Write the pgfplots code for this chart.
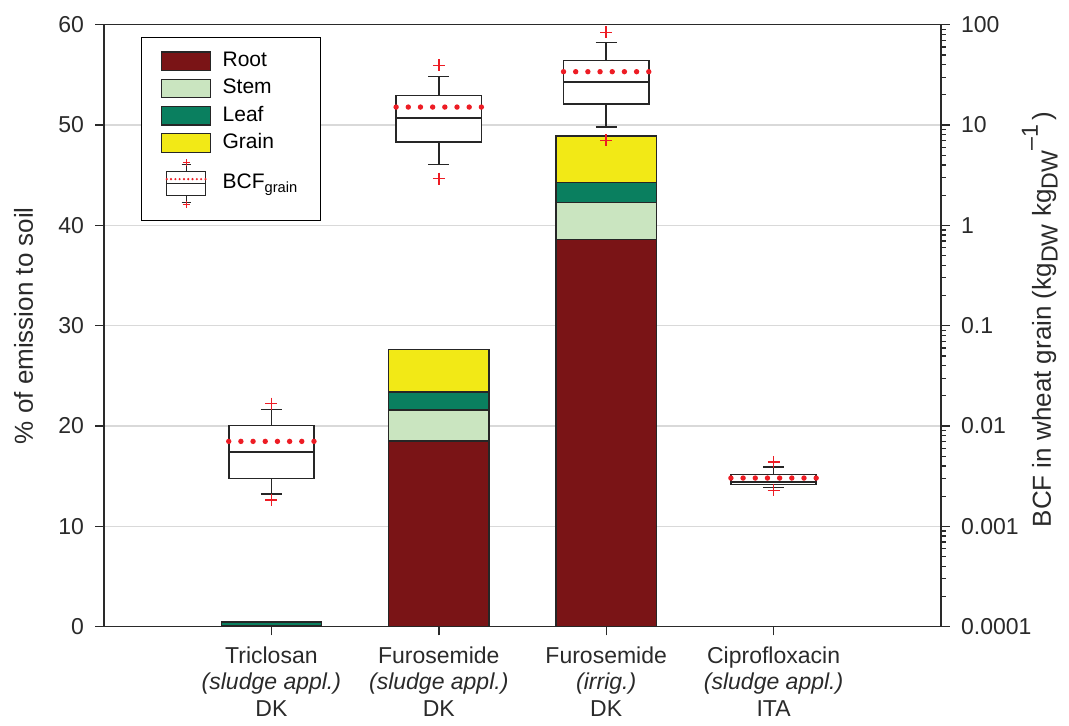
\documentclass[border=0pt]{standalone}
\usepackage{pgfplots}
\pgfplotsset{compat=1.18}
\usepackage{fontspec}
\setmainfont{Liberation Sans}
\newcommand\fs{\fontsize{11.5}{13.3}\selectfont}
\newcommand\lab{\fontsize{13}{15}\selectfont}
\newcommand\labr{\fontsize{13}{15}\selectfont}
\newcommand\labsub[1]{\raisebox{-0.5ex}{\fontsize{11.6}{13}\selectfont #1}}
\newcommand\labsup[1]{\raisebox{0.95ex}{\fontsize{11.6}{13}\selectfont #1}}
\definecolor{root}{HTML}{7A1416}
\definecolor{stem}{HTML}{CAE5C0}
\definecolor{leaf}{HTML}{0A7F5F}
\definecolor{grain}{HTML}{F2E916}
\definecolor{mred}{HTML}{ED1C24}
\definecolor{axc}{HTML}{2A2A2A}
\begin{document}
\begin{tikzpicture}
\pgfplotsset{
  common/.style={
    scale only axis, width=418.5pt, height=301pt,
    xmin=-1, xmax=4,
    tick align=outside, major tick length=4.3pt, minor tick length=2.3pt,
    axis line style={line width=0.7pt, draw=axc},
    every tick/.style={line width=0.7pt, draw=axc},
    every minor tick/.style={line width=0.65pt, draw=axc},
    tick label style={font=\fs, text=axc},
    label style={text=axc},
    /pgf/number format/assume math mode=true,
  },
  bx/.style={forget plot, draw=black!85, fill=white, line width=0.8pt},
  bl/.style={forget plot, draw=black!85, line width=0.8pt, unbounded coords=jump},
  mn/.style={forget plot, mred, line width=2.7pt, line cap=round, dash pattern=on 0pt off 6.09pt},
}
\begin{axis}[common, name=left,
  ymin=0, ymax=60, ytick={0,10,...,60},
  xtick={0,1,2,3},
  xticklabels={{Triclosan\\\textit{(sludge appl.)}\\DK},
               {Furosemide\\\textit{(sludge appl.)}\\DK},
               {Furosemide\\\textit{(irrig.)}\\DK},
               {Ciprofloxacin\\\textit{(sludge appl.)}\\ITA}},
  xticklabel style={align=center, yshift=-2pt},
  yticklabel style={xshift=-2.2pt},
  xtick pos=left, ytick pos=left,
  ymajorgrids, grid style={draw=black!15, line width=0.7pt},
  ybar stacked, bar width=0.6,
  ylabel={\% of emission to soil},
  ylabel style={font=\lab, at={(axis description cs:-0.096,0.5)}, anchor=center},
]
\addplot[fill=root, draw=black!85, line width=0.6pt] coordinates {(0,0.05) (1,18.5) (2,38.6)};
\addplot[fill=stem, draw=black!85, line width=0.6pt] coordinates {(0,0.05) (1,3.1) (2,3.7)};
\addplot[fill=leaf, draw=black!85, line width=0.6pt] coordinates {(0,0.35) (1,1.8) (2,2.0)};
\addplot[fill=grain, draw=black!85, line width=0.6pt] coordinates {(0,0.05) (1,4.2) (2,4.6)};
\end{axis}
\begin{axis}[common,
  ymode=log, ymin=1e-4, ymax=100,
  axis y line*=right, axis x line=none,
  ytick={1e-4,1e-3,1e-2,1e-1,1,10,100},
  yticklabels={0.0001,0.001,0.01,0.1,1,10,100},
  yticklabel style={xshift=2.2pt},
  minor ytick={2e-4,3e-4,4e-4,5e-4,6e-4,7e-4,8e-4,9e-4,
               2e-3,3e-3,4e-3,5e-3,6e-3,7e-3,8e-3,9e-3,
               0.02,0.03,0.04,0.05,0.06,0.07,0.08,0.09,
               0.2,0.3,0.4,0.5,0.6,0.7,0.8,0.9,
               2,3,4,5,6,7,8,9,
               20,30,40,50,60,70,80,90},
  ylabel={BCF in wheat grain (kg\labsub{DW} kg\labsub{DW}\labsup{--1}\,)},
  ylabel style={font=\labr, at={(axis description cs:1.118,0.51)}, anchor=center},
  legend style={at={(0.0438,0.98)}, anchor=north west, draw=black, line width=0.6pt,
    fill=white, inner xsep=10pt, inner ysep=6pt, row sep=1.6pt, font=\fontsize{10.5}{12}\selectfont,
    nodes={inner sep=1pt, text height=7.7pt, text depth=2.3pt},
    /tikz/every odd column/.append style={column sep=4.8pt}},
  legend cell align=left,
]
% Triclosan: lw 0.0021, q1 0.00301, med 0.00551, q3 0.01014, uw 0.01455
\addplot[bx] coordinates {(-0.255,0.00301) (0.255,0.00301) (0.255,0.01014) (-0.255,0.01014)} -- cycle;
\addplot[bl] coordinates {(-0.255,0.00551) (0.255,0.00551) (0,nan) (0,0.01014) (0,0.01455) (0,nan)
  (-0.0625,0.01455) (0.0625,0.01455) (0,nan) (0,0.00301) (0,0.0021) (0,nan) (-0.0625,0.0021) (0.0625,0.0021)};
% Furosemide sludge: lw 4.05, q1 6.82, med 11.8, q3 19.7, uw 30.5
\addplot[bx] coordinates {(0.745,6.82) (1.255,6.82) (1.255,19.7) (0.745,19.7)} -- cycle;
\addplot[bl] coordinates {(0.745,11.8) (1.255,11.8) (1,nan) (1,19.7) (1,30.5) (1,nan)
  (0.9375,30.5) (1.0625,30.5) (1,nan) (1,6.82) (1,4.05) (1,nan) (0.9375,4.05) (1.0625,4.05)};
% Furosemide irrig: lw 9.56, q1 16.2, med 26.9, q3 44.1, uw 66.6
\addplot[bx] coordinates {(1.745,16.2) (2.255,16.2) (2.255,44.1) (1.745,44.1)} -- cycle;
\addplot[bl] coordinates {(1.745,26.9) (2.255,26.9) (2,nan) (2,44.1) (2,66.6) (2,nan)
  (1.9375,66.6) (2.0625,66.6) (2,nan) (2,16.2) (2,9.56) (2,nan) (1.9375,9.56) (2.0625,9.56)};
% Ciprofloxacin: lw 0.00244, q1 0.00262, med 0.00277, q3 0.0033, uw 0.00391
\addplot[bx] coordinates {(2.745,0.00262) (3.255,0.00262) (3.255,0.0033) (2.745,0.0033)} -- cycle;
\addplot[bl] coordinates {(2.745,0.00277) (3.255,0.00277) (3,nan) (3,0.0033) (3,0.00391) (3,nan)
  (2.9375,0.00391) (3.0625,0.00391) (3,nan) (3,0.00262) (3,0.00244) (3,nan) (2.9375,0.00244) (3.0625,0.00244)};
% means
\addplot[mn] coordinates {(-0.255,0.00703) (0.255,0.00703)};
\addplot[mn] coordinates {(0.745,15.1) (1.255,15.1)};
\addplot[mn] coordinates {(1.745,34.0) (2.255,34.0)};
\addplot[mn] coordinates {(2.745,0.00303) (3.255,0.00303)};
% outliers
\addplot[forget plot, only marks, mark=+, mark size=3pt, mred, line width=0.8pt]
  coordinates {(0,0.0167) (0,0.00184) (1,39.3) (1,2.92) (2,83.8) (2,7.03) (3,0.00438) (3,0.00228)};
% legend
\addlegendimage{legend image code/.code={\draw[fill=root, draw=black!85, line width=0.6pt] (0pt,-4.65pt) rectangle (24.3pt,4.65pt);}}
\addlegendentry{Root}
\addlegendimage{legend image code/.code={\draw[fill=stem, draw=black!85, line width=0.6pt] (0pt,-4.65pt) rectangle (24.3pt,4.65pt);}}
\addlegendentry{Stem}
\addlegendimage{legend image code/.code={\draw[fill=leaf, draw=black!85, line width=0.6pt] (0pt,-4.65pt) rectangle (24.3pt,4.65pt);}}
\addlegendentry{Leaf}
\addlegendimage{legend image code/.code={\draw[fill=grain, draw=black!85, line width=0.6pt] (0pt,-4.65pt) rectangle (24.3pt,4.65pt);}}
\addlegendentry{Grain}
\addlegendimage{legend image code/.code={
  \draw[black!85, line width=0.5pt] (12.15pt,5.9pt) -- (12.15pt,9.6pt) (9.9pt,9.6pt) -- (14.4pt,9.6pt);
  \draw[black!85, line width=0.5pt] (12.15pt,-5.9pt) -- (12.15pt,-9.6pt) (9.9pt,-9.6pt) -- (14.4pt,-9.6pt);
  \draw[black!85, line width=0.5pt, fill=white] (2.45pt,-5.9pt) rectangle (21.85pt,5.9pt);
  \draw[black!85, line width=0.5pt] (2.45pt,0pt) -- (21.85pt,0pt);
  \draw[mred, line width=1.2pt, line cap=round, dash pattern=on 0pt off 2.15pt] (2.45pt,2.2pt) -- (21.85pt,2.2pt);
  \draw[mred, line width=0.6pt] (10.4pt,10.7pt) -- (13.9pt,10.7pt) (12.15pt,9pt) -- (12.15pt,12.4pt);
  \draw[mred, line width=0.6pt] (10.4pt,-10.5pt) -- (13.9pt,-10.5pt) (12.15pt,-8.8pt) -- (12.15pt,-12.2pt);
}}
\addlegendentry{BCF\textsubscript{grain}}
\end{axis}
\path ([xshift=-52pt,yshift=-49.35pt]left.south west) rectangle ([xshift=64pt,yshift=12.35pt]left.north east);
\end{tikzpicture}
\end{document}
